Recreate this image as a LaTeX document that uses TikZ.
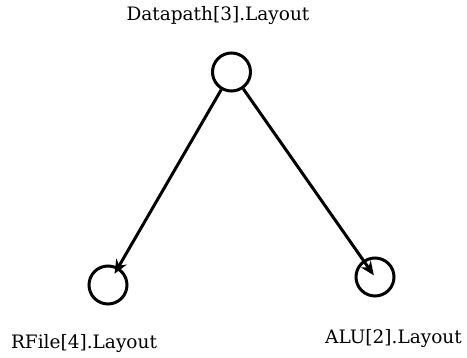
\documentclass[tikz,border=0pt]{standalone}
\usepackage{fontspec}
\setmainfont{DejaVu Serif}
\usetikzlibrary{arrows.meta}
\begin{document}
\begin{tikzpicture}[x=1pt,y=-1pt,
  vert/.style={circle,draw,line width=3pt,minimum size=38pt,inner sep=0pt},
  lbl/.style={font=\fontsize{18.5}{22}\selectfont,inner sep=0pt,anchor=base},
  conn/.style={line width=3pt,-{Stealth[length=14pt,width=12pt]}}]
\useasboundingbox (0,0) rectangle (467,358);
\node[vert] (d) at (231.5,72) {};
\node[vert] (r) at (108,285) {};
\node[vert] (a) at (375,277) {};
\node[lbl] (dl) at (218,21) {Datapath[3].Layout};
\node[lbl] (rl) at (84,349) {RFile[4].Layout};
\node[lbl] (al) at (393.5,344) {ALU[2].Layout};
\draw[conn,shorten >=13pt] (d) -- (r.center);
\draw[conn,shorten >=2pt] (d) -- (a.center);
\end{tikzpicture}
\end{document}
